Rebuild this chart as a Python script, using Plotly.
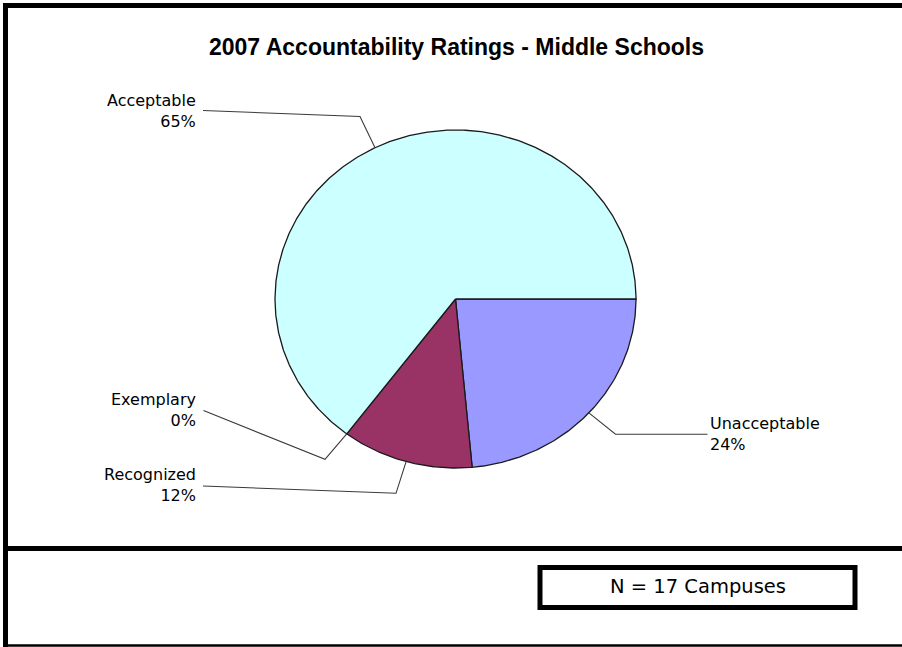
import numpy as np
import plotly.graph_objects as go

# Campus counts per 2007 accountability rating (middle schools), clockwise from 3 o'clock
categories = ["Unacceptable", "Recognized", "Exemplary", "Acceptable"]
campuses = [4, 2, 0, 11]
title_text = "2007 Accountability Ratings - Middle Schools"
note_text = "N = 17 Campuses"

# Styling
slice_colors = {"Unacceptable": "#9999FF", "Recognized": "#993366",
                "Exemplary": "#FFFFCC", "Acceptable": "#CCFFFF"}
W, H = 902, 647
center = (455.5, 299.0)
radii = (180.5, 169.0)

# Label layout: leader elbow, text anchor and alignment
label_layout = {
    "Acceptable":   {"elbow": (360.0, 116.5), "end": (203.0, 110.5), "text": (197.5, 111.0), "side": "right"},
    "Unacceptable": {"elbow": (615.5, 434.3), "end": (707.5, 434.3), "text": (708.0, 434.0), "side": "left"},
    "Exemplary":    {"elbow": (325.0, 459.3), "end": (203.5, 410.5), "text": (197.5, 410.0), "side": "right"},
    "Recognized":   {"elbow": (396.0, 493.3), "end": (203.0, 486.0), "text": (197.5, 484.5), "side": "right"},
}

total = sum(campuses)
cx, cy = center
rx, ry = radii


def edge_point(theta):
    return cx + rx * np.cos(theta), cy + ry * np.sin(theta)


fig = go.Figure()

# Pie slices as filled paths on the pixel-scaled axes
start = 0.0
mids = {}
for cat, val in zip(categories, campuses):
    sweep = 2 * np.pi * val / total
    mids[cat] = start + sweep / 2
    if val > 0:
        n = max(3, int(np.degrees(sweep) * 2))
        th = np.linspace(start, start + sweep, n)
        xs = [cx] + list(cx + rx * np.cos(th)) + [cx]
        ys = [cy] + list(cy + ry * np.sin(th)) + [cy]
        fig.add_trace(go.Scatter(
            x=xs, y=ys, mode="lines", fill="toself",
            fillcolor=slice_colors[cat],
            line=dict(color="#1a1a1a", width=1.3),
            hoverinfo="skip", showlegend=False))
    start += sweep

# Leader lines and labels
for cat, val in zip(categories, campuses):
    lay = label_layout[cat]
    px, py = edge_point(mids[cat])
    fig.add_trace(go.Scatter(
        x=[px, lay["elbow"][0], lay["end"][0]],
        y=[py, lay["elbow"][1], lay["end"][1]],
        mode="lines", line=dict(color="#3a3a3a", width=1.1),
        hoverinfo="skip", showlegend=False))
    pct = round(100 * val / total)
    fig.add_annotation(
        x=lay["text"][0], y=lay["text"][1], xref="x", yref="y",
        text=f"{cat}<br>{pct}%", showarrow=False,
        xanchor=lay["side"], yanchor="middle", align=lay["side"],
        font=dict(family="DejaVu Sans", size=16, color="black"))

# Title
fig.add_annotation(
    x=456, y=47, xref="x", yref="y", text=f"<b>{title_text}</b>",
    showarrow=False, xanchor="center", yanchor="middle",
    font=dict(family="Liberation Sans", size=23, color="black"))

# Frame lines
frame = dict(type="line", xref="x", yref="y", line=dict(color="black", width=5))
fig.add_shape(x0=3, x1=W, y0=5.5, y1=5.5, **frame)
fig.add_shape(x0=5.5, x1=5.5, y0=3, y1=H, **frame)
fig.add_shape(x0=3, x1=W, y0=548.5, y1=548.5, **frame)
fig.add_shape(type="line", xref="x", yref="y", x0=3, x1=W, y0=645.5, y1=645.5,
              line=dict(color="black", width=2.5))

# Note box
fig.add_shape(type="rect", xref="x", yref="y", x0=540, x1=855, y0=567.5, y1=607.5,
              line=dict(color="black", width=5), fillcolor="white")
fig.add_annotation(
    x=697.5, y=586, xref="x", yref="y", text=note_text, showarrow=False,
    xanchor="center", yanchor="middle",
    font=dict(family="DejaVu Sans", size=19.5, color="black"))

fig.update_xaxes(range=[0, W], visible=False, fixedrange=True)
fig.update_yaxes(range=[H, 0], visible=False, fixedrange=True)
fig.update_layout(
    width=W, height=H, margin=dict(l=0, r=0, t=0, b=0),
    paper_bgcolor="white", plot_bgcolor="white", showlegend=False)

fig.write_html("out.html")
